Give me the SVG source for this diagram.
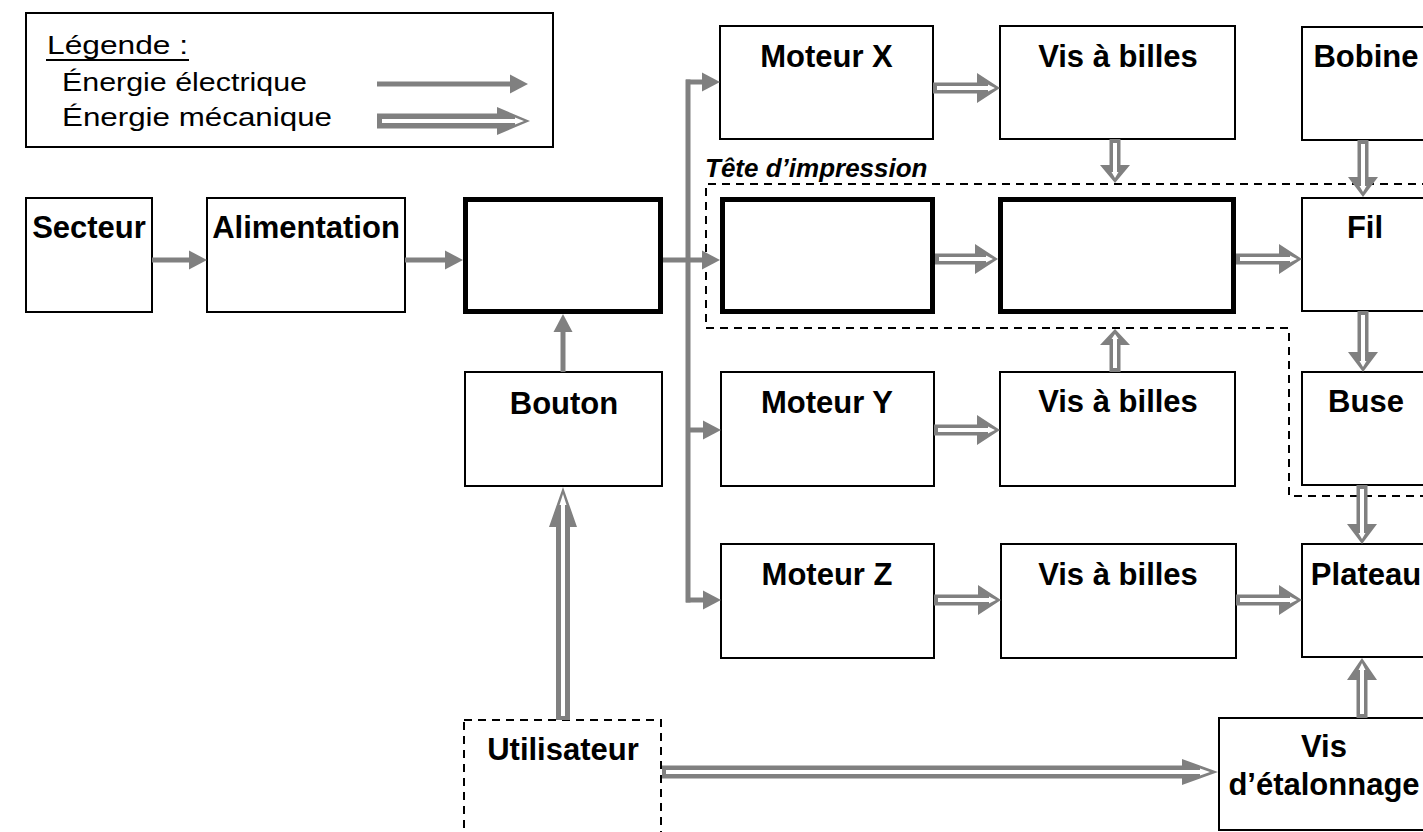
<svg xmlns="http://www.w3.org/2000/svg" width="1423" height="832" viewBox="0 0 1423 832">
<defs>
<style>
.box{fill:#fff;stroke:#000;stroke-width:2}
.thick{fill:#fff;stroke:#000;stroke-width:5}
.dash{fill:none;stroke:#000;stroke-width:2;stroke-dasharray:8 6}
.lbl{font-family:"Liberation Sans",Arial,sans-serif;font-weight:bold;font-size:31px;fill:#000;text-anchor:middle}
.leg{font-family:"Liberation Sans",Arial,sans-serif;font-size:26px;fill:#000}
.elec{fill:none;stroke:#808080;stroke-width:5;marker-end:url(#ah)}
.bus{fill:none;stroke:#808080;stroke-width:5;stroke-linecap:square}
.mech polygon:first-child{fill:#808080;stroke:none}
.mech polygon:last-child{fill:#fff;stroke:none}
</style>
<marker id="ah" markerUnits="userSpaceOnUse" markerWidth="18" markerHeight="19" refX="0" refY="9.5" orient="auto" overflow="visible">
<path d="M0,0 L18,9.5 L0,19 z" fill="#808080"/>
</marker>
</defs>
<rect width="1423" height="832" fill="#fff"/>

<g id="legend">
<rect class="box" x="26" y="13" width="527" height="134"/>
<text class="leg" x="47" y="54" textLength="141" lengthAdjust="spacingAndGlyphs">Légende :</text>
<line x1="46" y1="60" x2="189" y2="60" stroke="#000" stroke-width="2"/>
<text class="leg" x="62" y="91" textLength="245" lengthAdjust="spacingAndGlyphs">Énergie électrique</text>
<text class="leg" x="62" y="126" textLength="270" lengthAdjust="spacingAndGlyphs">Énergie mécanique</text>
<line class="elec" x1="377" y1="84" x2="510" y2="84"/>
<g class="mech">
<polygon points="377,113.5 497,113.5 497,107 530,121 497,135 497,128.5 377,128.5"/>
<polygon points="382,119 515,119 515,117.5 524,121 515,124.5 515,123 382,123"/>
</g>
</g>

<g id="tete">
<path class="dash" d="M1430,184 H706 V328 H1289 V496 H1430"/>
<text x="705" y="177" style="font-family:'Liberation Sans',Arial,sans-serif;font-weight:bold;font-style:italic;font-size:26px">Tête d’impression</text>
</g>

<g id="secteur"><rect class="box" x="26" y="198" width="126" height="114"/><text class="lbl" x="89" y="238">Secteur</text></g>
<g id="alimentation"><rect class="box" x="207" y="198" width="198" height="114"/><text class="lbl" x="306" y="238">Alimentation</text></g>
<g id="centre"><rect class="thick" x="465.5" y="199.5" width="195" height="112"/></g>
<g id="bouton"><rect class="box" x="465" y="372" width="197" height="114"/><text class="lbl" x="564" y="414">Bouton</text></g>
<g id="utilisateur"><rect class="dash" x="464" y="720" width="197" height="130"/><text class="lbl" x="563" y="760">Utilisateur</text></g>

<g id="moteurX"><rect class="box" x="720" y="26" width="213" height="113"/><text class="lbl" x="826.5" y="67">Moteur X</text></g>
<g id="tete1"><rect class="thick" x="722.5" y="199.5" width="210" height="112"/></g>
<g id="moteurY"><rect class="box" x="721" y="372" width="213" height="114"/><text class="lbl" x="827" y="413">Moteur Y</text></g>
<g id="moteurZ"><rect class="box" x="721" y="544" width="213" height="114"/><text class="lbl" x="827" y="585">Moteur Z</text></g>

<g id="vis1"><rect class="box" x="1000" y="26" width="235" height="113"/><text class="lbl" x="1118" y="67">Vis à billes</text></g>
<g id="tete2"><rect class="thick" x="1000.5" y="199.5" width="233" height="112"/></g>
<g id="vis2"><rect class="box" x="1000" y="372" width="235" height="114"/><text class="lbl" x="1118" y="412">Vis à billes</text></g>
<g id="vis3"><rect class="box" x="1001" y="544" width="235" height="114"/><text class="lbl" x="1118" y="585">Vis à billes</text></g>

<g id="bobine"><rect class="box" x="1302" y="27" width="128" height="113"/><text class="lbl" x="1366" y="67">Bobine</text></g>
<g id="fil"><rect class="box" x="1302" y="198" width="128" height="113"/><text class="lbl" x="1365" y="238">Fil</text></g>
<g id="buse"><rect class="box" x="1302" y="372" width="128" height="113"/><text class="lbl" x="1366" y="412">Buse</text></g>
<g id="plateau"><rect class="box" x="1302" y="544" width="128" height="113"/><text class="lbl" x="1366" y="585">Plateau</text></g>
<g id="visEtalonnage"><rect class="box" x="1219" y="718" width="211" height="112"/><text class="lbl" x="1324" y="757">Vis</text><text class="lbl" x="1324" y="795">d’étalonnage</text></g>

<g id="connectors">
<line class="elec" x1="152" y1="260" x2="189" y2="260"/>
<line class="elec" x1="405" y1="260" x2="445" y2="260"/>
<line class="elec" x1="563" y1="372" x2="563" y2="332"/>
<line class="elec" x1="663" y1="260" x2="702" y2="260"/>
<path class="bus" d="M688,82 V600"/>
<line class="elec" x1="686" y1="82" x2="702" y2="82"/>
<line class="elec" x1="686" y1="430" x2="703" y2="430"/>
<line class="elec" x1="686" y1="600" x2="703" y2="600"/>

<g class="mech"><polygon points="933,82.5 977,82.5 977,73 1000,88 977,103 977,93.5 933,93.5"/><polygon points="937,86 988,86 988,84.5 995,88 988,91.5 988,90 937,90"/></g>
<g class="mech"><polygon points="1109.5,139 1109.5,165 1100,165 1115,183 1130,165 1120.5,165 1120.5,139"/><polygon points="1113,143 1113,172 1111.5,172 1115,178 1118.5,172 1117,172 1117,143"/></g>
<g class="mech"><polygon points="1357.5,140 1357.5,177 1348,177 1363,197 1378,177 1368.5,177 1368.5,140"/><polygon points="1361,144 1361,186 1359.5,186 1363,192 1366.5,186 1365,186 1365,144"/></g>
<g class="mech"><polygon points="935,253.5 975,253.5 975,244 998,259 975,274 975,264.5 935,264.5"/><polygon points="939,257 986,257 986,255.5 993,259 986,262.5 986,261 939,261"/></g>
<g class="mech"><polygon points="1236,253.5 1279,253.5 1279,244 1302,259 1279,274 1279,264.5 1236,264.5"/><polygon points="1240,257 1290,257 1290,255.5 1297,259 1290,262.5 1290,261 1240,261"/></g>
<g class="mech"><polygon points="1357.5,311 1357.5,352 1348,352 1363,372 1378,352 1368.5,352 1368.5,311"/><polygon points="1361,315 1361,361 1359.5,361 1363,367 1366.5,361 1365,361 1365,315"/></g>
<g class="mech"><polygon points="1109.5,372 1109.5,345 1100,345 1115,329 1130,345 1120.5,345 1120.5,372"/><polygon points="1113,368 1113,339 1111.5,339 1115,334 1118.5,339 1117,339 1117,368"/></g>
<g class="mech"><polygon points="934,424.5 977,424.5 977,415 1000,430 977,445 977,435.5 934,435.5"/><polygon points="938,428 988,428 988,426.5 995,430 988,433.5 988,432 938,432"/></g>
<g class="mech"><polygon points="934,594.5 978,594.5 978,585 1001,600 978,615 978,605.5 934,605.5"/><polygon points="938,598 989,598 989,596.5 996,600 989,603.5 989,602 938,602"/></g>
<g class="mech"><polygon points="1236,594.5 1279,594.5 1279,585 1302,600 1279,615 1279,605.5 1236,605.5"/><polygon points="1240,598 1290,598 1290,596.5 1297,600 1290,603.5 1290,602 1240,602"/></g>
<g class="mech"><polygon points="1356.5,485 1356.5,524 1347,524 1362,544 1377,524 1367.5,524 1367.5,485"/><polygon points="1360,489 1360,533 1358.5,533 1362,539 1365.5,533 1364,533 1364,489"/></g>
<g class="mech"><polygon points="1356.5,718 1356.5,680 1347,680 1362,658 1377,680 1367.5,680 1367.5,718"/><polygon points="1360,714 1360,670 1358.5,670 1362,663 1365.5,670 1364,670 1364,714"/></g>
<g class="mech"><polygon points="556,720 556,527 549,527 563,487 577,527 570,527 570,720"/><polygon points="561,716 561,505 559.5,505 563,494 566.5,505 565,505 565,716"/></g>
<g class="mech"><polygon points="662,765.5 1182,765.5 1182,759 1218,772 1182,785 1182,778.5 662,778.5"/><polygon points="666,770 1200,770 1200,768.5 1210,772 1200,775.5 1200,774 666,774"/></g>
</g>
</svg>
